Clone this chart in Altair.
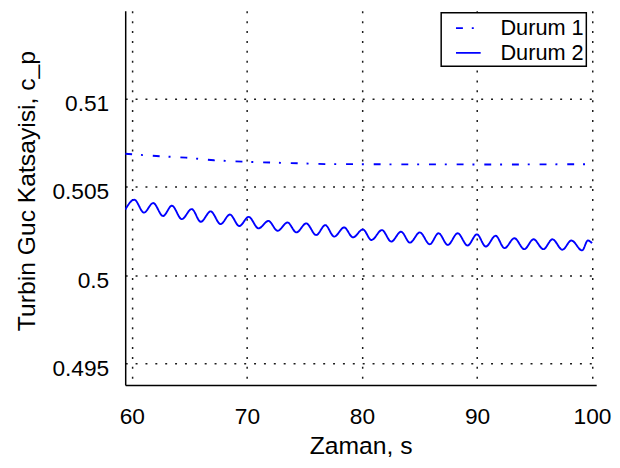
import altair as alt
import pandas as pd

# Durum 1 (dash-dot)
x1 = [59.42, 62.13, 64.71, 67.14, 69.66, 72.15, 74.58, 77.16, 79.45, 82.9, 87.2, 91.5, 95.8, 100.0]
y1 = [0.50687, 0.50674, 0.50665, 0.50650, 0.50642, 0.50637, 0.50633, 0.50628, 0.50628,
      0.50627, 0.50627, 0.50626, 0.50627, 0.50628]

# Durum 2 (solid, oscillating)
x2 = [59.42, 60.21, 61.05, 61.85, 62.71, 63.48, 64.34, 65.20, 65.99, 66.85,
      67.71, 68.52, 69.34, 70.15, 71.01, 71.87, 72.67, 73.53, 74.30, 75.16,
      76.02, 76.81, 77.59, 78.45, 79.22, 80.08, 80.82, 81.74, 82.54, 83.40,
      84.17, 85.03, 85.89, 86.66, 87.46, 88.32, 89.18, 89.99, 90.76, 91.62,
      92.39, 93.25, 94.11, 94.91, 95.77, 96.56, 97.42, 98.20, 99.14, 99.63, 100.0]
y2 = [0.50371, 0.50427, 0.50354, 0.50408, 0.50335, 0.50393, 0.50317, 0.50374, 0.50302, 0.50361,
      0.50289, 0.50343, 0.50278, 0.50330, 0.50265, 0.50307, 0.50251, 0.50298, 0.50242, 0.50293,
      0.50227, 0.50283, 0.50218, 0.50270, 0.50214, 0.50259, 0.50199, 0.50255, 0.50190, 0.50246,
      0.50184, 0.50242, 0.50175, 0.50237, 0.50171, 0.50237, 0.50168, 0.50231, 0.50162, 0.50223,
      0.50153, 0.50209, 0.50147, 0.50203, 0.50147, 0.50203, 0.50144, 0.50196, 0.50140, 0.50196, 0.50181]

series_names = ["Durum 1", "Durum 2"]
x_ticks = [60, 70, 80, 90, 100]
y_ticks = [0.495, 0.5, 0.505, 0.51]

df1 = pd.DataFrame({"t": x1, "cp": y1, "series": series_names[0]})
df2 = pd.DataFrame({"t": x2, "cp": y2, "series": series_names[1]})

FONT = "Liberation Sans"

x_enc = alt.X("t:Q", title="Zaman, s",
              scale=alt.Scale(domain=[59.42, 100.36], nice=False, zero=False),
              axis=alt.Axis(values=x_ticks, format="d", labelFontSize=23,
                            labelBaseline="alphabetic", labelPadding=38.7,
                            titleFontSize=25, titleBaseline="alphabetic", titleY=69.7))
y_enc = alt.Y("cp:Q", title="Turbin Guc Katsayisi, c_p",
              scale=alt.Scale(domain=[0.49378, 0.514956], nice=False, zero=False),
              axis=alt.Axis(values=y_ticks, format="~g", labelFontSize=23,
                            labelBaseline="alphabetic", labelPadding=16.7, labelOffset=12,
                            titleFontSize=25, titleBaseline="alphabetic", titleAngle=270,
                            titleAlign="center", titleX=-91.7, titleY=182))

dash_enc = alt.StrokeDash(
    "series:N",
    scale=alt.Scale(domain=series_names, range=[[7, 9, 2, 10], [1, 0]]),
    legend=alt.Legend(title=None, orient="none", legendX=320, legendY=2,
                      symbolType="stroke", symbolSize=625, symbolStrokeWidth=1.9,
                      symbolStrokeColor="#0000ff", symbolOffset=12, labelOffset=19,
                      labelFontSize=22, labelFont=FONT, labelColor="black",
                      padding=2, rowPadding=0, fillColor="white", strokeColor="black"),
)

line1 = alt.Chart(df1).mark_line(color="#0000ff", strokeWidth=1.9, clip=True).encode(
    x=x_enc, y=y_enc, strokeDash=dash_enc)
line2 = alt.Chart(df2).mark_line(color="#0000ff", strokeWidth=1.9, clip=True,
                                 interpolate="monotone").encode(
    x=x_enc, y=y_enc, strokeDash=dash_enc)

chart = alt.layer(line1, line2).properties(
    width=477, height=379,
    autosize=alt.AutoSizeParams(type="none"),
    padding={"left": 118.7, "top": 0, "right": 16, "bottom": 75},
).configure_view(stroke=None).configure_axis(
    labelFont=FONT, titleFont=FONT, labelColor="black", titleColor="black",
    titleFontWeight="normal", ticks=False, tickSize=0,
    domainColor="black", domainWidth=1.5,
    grid=True, gridColor="#1a1a1a", gridDash=[2, 8], gridWidth=1.5, gridOpacity=1,
).configure_legend(strokeWidth=1.5)

chart.save("out.html", embed_options={"renderer": "svg", "actions": False})
